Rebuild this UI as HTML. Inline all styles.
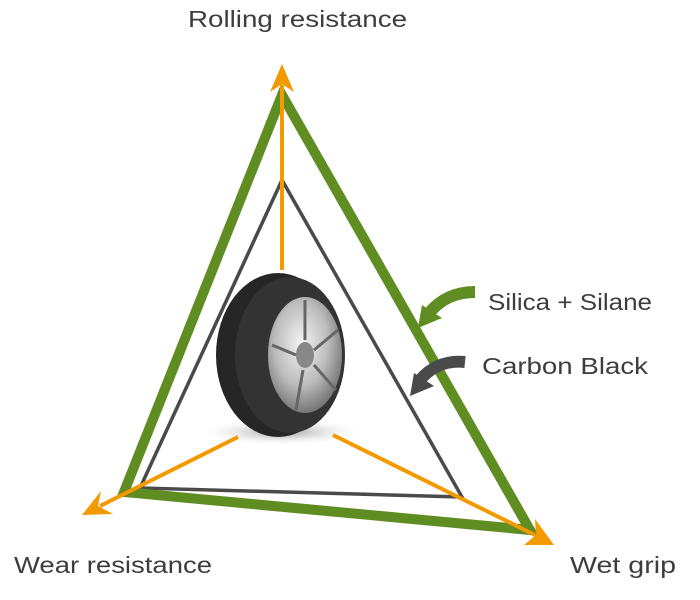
<!DOCTYPE html>
<html><head><style>
body{margin:0;background:#fff;width:700px;height:600px;overflow:hidden}
svg{display:block}
text{font-family:"Liberation Sans",sans-serif;fill:#3d3d3d;font-size:23px}
</style></head><body>
<svg width="700" height="600" viewBox="0 0 700 600">
<defs>
<radialGradient id="sh" cx="0.5" cy="0.5" r="0.5"><stop offset="0" stop-color="#999"/><stop offset="1" stop-color="#fff" stop-opacity="0"/></radialGradient>
<radialGradient id="rim" cx="0.45" cy="0.4" r="0.6"><stop offset="0" stop-color="#f4f4f4"/><stop offset="0.6" stop-color="#bcbcbc"/><stop offset="1" stop-color="#777"/></radialGradient>
</defs>
<text x="188" y="27" textLength="219" lengthAdjust="spacingAndGlyphs">Rolling resistance</text>
<text x="14" y="573" textLength="198" lengthAdjust="spacingAndGlyphs">Wear resistance</text>
<text x="570" y="573" textLength="106" lengthAdjust="spacingAndGlyphs">Wet grip</text>
<text x="488" y="310" textLength="164" lengthAdjust="spacingAndGlyphs">Silica + Silane</text>
<text x="482" y="374" textLength="166" lengthAdjust="spacingAndGlyphs">Carbon Black</text>
<!-- dark triangle -->
<polygon points="282,180 140,488 462,497" fill="none" stroke="#4a4a4a" stroke-width="3.5"/>
<!-- green triangle -->
<polygon points="282,95 124,492 530,530" fill="none" stroke="#5f8d22" stroke-width="10" stroke-linejoin="miter"/>
<!-- tire -->
<ellipse cx="282" cy="432" rx="85" ry="14" fill="url(#sh)"/>
<ellipse cx="278" cy="355" rx="62" ry="82" fill="#262626"/>
<ellipse cx="290" cy="355" rx="55" ry="78" fill="#333"/>
<ellipse cx="305" cy="355" rx="37" ry="58" fill="url(#rim)"/>
<ellipse cx="305" cy="355" rx="9" ry="13" fill="#888"/>
<g stroke="#666" stroke-width="3">
<line x1="305" y1="340" x2="305" y2="300"/><line x1="314" y1="350" x2="338" y2="330"/><line x1="314" y1="365" x2="336" y2="390"/><line x1="303" y1="370" x2="296" y2="410"/><line x1="296" y1="355" x2="272" y2="345"/>
</g>
<!-- orange arrows -->
<g stroke="#f29a00" stroke-width="4" fill="#f29a00">
<line x1="282" y1="270" x2="282" y2="85"/>
<line x1="238" y1="437" x2="100" y2="506"/>
<line x1="333" y1="435" x2="535" y2="535"/>
</g>
<g fill="#f29a00">
<polygon points="282,64 270,92 282,84 294,92"/>
<polygon points="82,515 101,491 98,506 113,514"/>
<polygon points="554,545 524,545 536,535 535,519"/>
</g>
<!-- curved arrows -->
<path d="M475,292 C455,292 440,300 430,312" fill="none" stroke="#5f8d22" stroke-width="12"/>
<polygon points="418,328 422,305 442,318" fill="#5f8d22"/>
<path d="M465,362 C445,360 430,368 420,380" fill="none" stroke="#4a4a4a" stroke-width="12"/>
<polygon points="410,396 414,373 434,386" fill="#4a4a4a"/>
</svg>
</body></html>
